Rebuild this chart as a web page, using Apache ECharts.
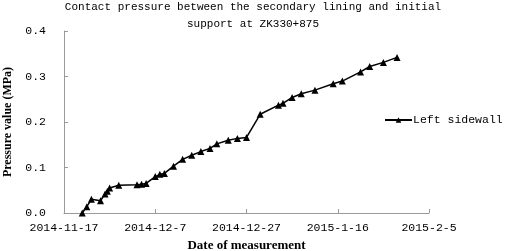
<!DOCTYPE html>
<html>
<head>
<meta charset="utf-8">
<script src="https://cdn.jsdelivr.net/npm/echarts@6/dist/echarts.min.js"></script>
<style>
  html, body { margin: 0; padding: 0; background: #fff; }
  #chart { width: 505px; height: 251px; }
</style>
</head>
<body>
<div id="chart"></div>
<script>
const dates = [
  '2014-11-21', '2014-11-22', '2014-11-23', '2014-11-25', '2014-11-26', '2014-11-26 12:00',
  '2014-11-27', '2014-11-29', '2014-12-03', '2014-12-04', '2014-12-05', '2014-12-07',
  '2014-12-08', '2014-12-09', '2014-12-11', '2014-12-13', '2014-12-15', '2014-12-17',
  '2014-12-19', '2014-12-20 12:00', '2014-12-23', '2014-12-25', '2014-12-27', '2014-12-30',
  '2015-01-03', '2015-01-04', '2015-01-06', '2015-01-08', '2015-01-11', '2015-01-15',
  '2015-01-17', '2015-01-21', '2015-01-23', '2015-01-26', '2015-01-29'
]
const leftSidewall = [
  0.000, 0.014, 0.030, 0.027, 0.042, 0.048,
  0.055, 0.061, 0.062, 0.063, 0.065, 0.080,
  0.085, 0.087, 0.103, 0.118, 0.127, 0.135,
  0.142, 0.152, 0.160, 0.164, 0.166, 0.217,
  0.237, 0.241, 0.254, 0.262, 0.270, 0.284,
  0.290, 0.310, 0.322, 0.331, 0.342
]
const startDate = '2014-11-17'
const dayStep = 20
const dayMax = 80
const yTicks = [0, 0.1, 0.2, 0.3, 0.4]

const DAY = 86400000
const toMs = s => {
  const [d, t] = s.split(' ')
  const [y, m, dd] = d.split('-').map(Number)
  let ms = Date.UTC(y, m - 1, dd)
  if (t) { const [h, mi] = t.split(':').map(Number); ms += (h * 60 + mi) * 60000 }
  return ms
}
const base = toMs(startDate)
const dayLabel = v => {
  const dt = new Date(base + v * DAY)
  return dt.getUTCFullYear() + '-' + (dt.getUTCMonth() + 1) + '-' + dt.getUTCDate()
}

const seriesData = dates.map((d, i) => [(toMs(d) - base) / DAY, leftSidewall[i]])

const chart = echarts.init(document.getElementById('chart'), null, { renderer: 'canvas' })
const axisColor = '#9a9a9a'
chart.setOption({
  animation: false,
  backgroundColor: '#fff',
  title: {
    text: 'Contact pressure between the secondary lining and initial\nsupport at ZK330+875',
    left: 248,
    textAlign: 'center',
    top: -6,
    textStyle: { fontFamily: 'Liberation Mono', fontSize: 11, fontWeight: 'normal', color: '#000', lineHeight: 17 }
  },
  legend: {
    data: ['Left sidewall'],
    left: 379,
    top: 109,
    itemWidth: 27,
    itemHeight: 7,
    itemGap: 0,
    textStyle: { fontFamily: 'Liberation Mono', fontSize: 11.5, color: '#000', padding: [0, 0, 0, -4] }
  },
  grid: { left: 64, right: 76, top: 31, bottom: 38, containLabel: false, outerBoundsMode: 'none' },
  xAxis: {
    type: 'value',
    min: 0,
    max: dayMax,
    interval: dayStep,
    name: 'Date of measurement',
    nameLocation: 'middle',
    nameGap: 26,
    nameTextStyle: { fontFamily: 'Liberation Serif', fontWeight: 'bold', fontSize: 13, color: '#000' },
    axisLine: { lineStyle: { color: axisColor, width: 1 } },
    axisTick: { inside: true, length: 4, lineStyle: { color: axisColor } },
    axisLabel: {
      formatter: dayLabel,
      margin: 9,
      fontFamily: 'Liberation Mono',
      fontSize: 11.5,
      color: '#000'
    },
    splitLine: { show: false }
  },
  yAxis: {
    type: 'value',
    min: yTicks[0],
    max: yTicks[yTicks.length - 1],
    interval: 0.1,
    name: 'Pressure value (MPa)',
    nameLocation: 'middle',
    nameGap: 40,
    nameTextStyle: { fontFamily: 'Liberation Serif', fontWeight: 'bold', fontSize: 12, color: '#000' },
    axisLine: { show: true, lineStyle: { color: axisColor, width: 1 } },
    axisTick: { show: true, inside: true, length: 4, lineStyle: { color: axisColor } },
    axisLabel: {
      formatter: v => v.toFixed(1),
      margin: 18,
      fontFamily: 'Liberation Mono',
      fontSize: 11.5,
      color: '#000'
    },
    splitLine: { show: false }
  },
  series: [{
    name: 'Left sidewall',
    type: 'line',
    data: seriesData,
    symbol: 'triangle',
    symbolSize: 7,
    lineStyle: { color: '#000', width: 1.5 },
    itemStyle: { color: '#000' }
  }]
})
</script>
</body>
</html>
